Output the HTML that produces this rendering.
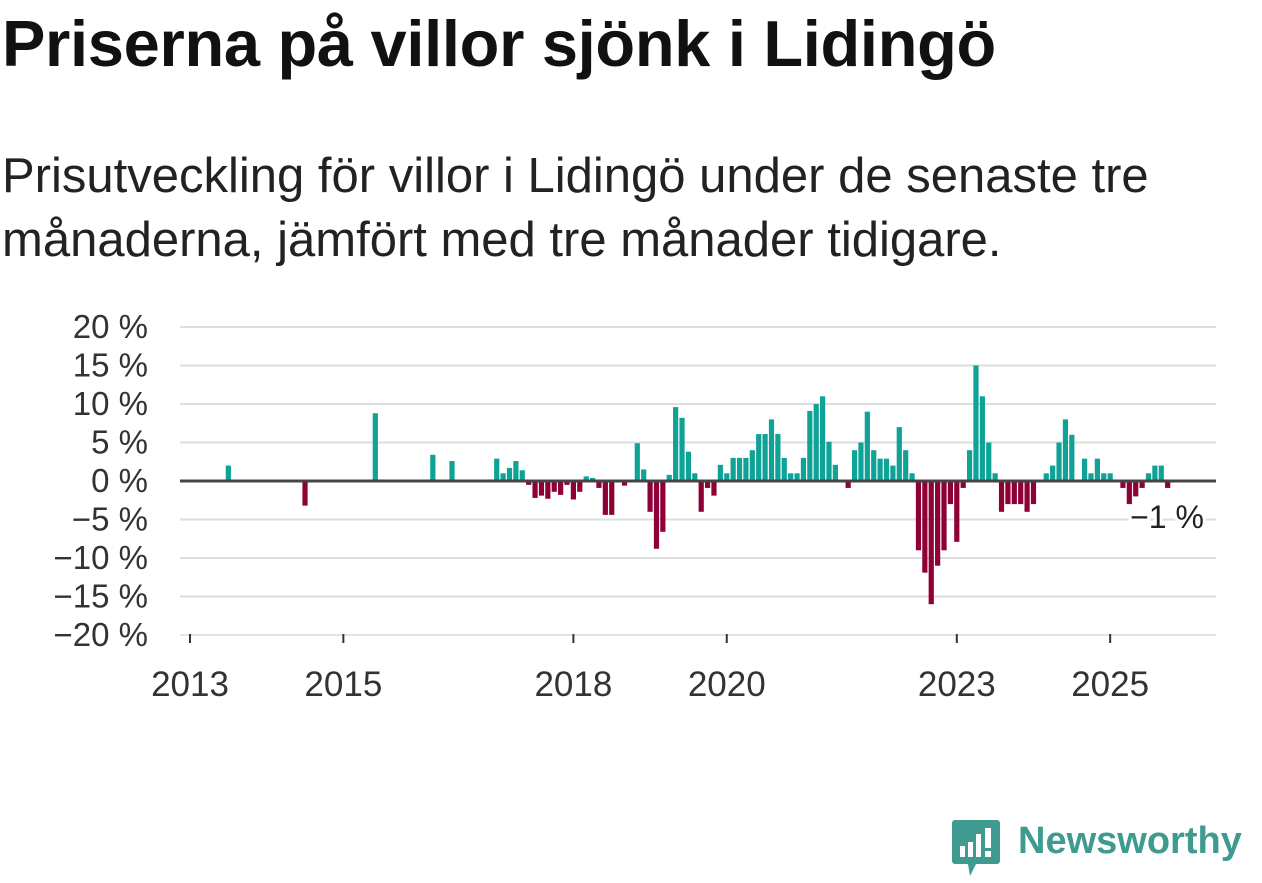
<!DOCTYPE html>
<html><head><meta charset="utf-8">
<style>
body{margin:0;background:#fff;width:1262px;height:879px;overflow:hidden;font-family:"Liberation Sans","DejaVu Sans",sans-serif;color:#111}
#title{position:absolute;left:2px;top:4px;font-size:65px;line-height:80px;font-weight:bold;margin:0;letter-spacing:-0.3px;white-space:nowrap}
#sub{position:absolute;left:2px;top:144px;font-size:49px;line-height:64px;margin:0;color:#222;white-space:nowrap}
svg{position:absolute;left:0;top:0}
</style></head><body>
<h1 id="title">Priserna på villor sjönk i Lidingö</h1>
<p id="sub">Prisutveckling för villor i Lidingö under de senaste tre<br>månaderna, jämfört med tre månader tidigare.</p>
<svg id="chart" width="1262" height="879"></svg>
<script>
const months=[6,18,29,38,41,48,49,50,51,52,53,54,55,56,57,58,59,60,61,62,63,64,65,66,68,70,71,72,73,74,75,76,77,78,79,80,81,82,83,84,85,86,87,88,89,90,91,92,93,94,95,96,97,98,99,100,101,103,104,105,106,107,108,109,110,111,112,113,114,115,116,117,118,119,120,121,122,123,124,125,126,127,128,129,130,131,132,134,135,136,137,138,140,141,142,143,144,146,147,148,149,150,151,152,153];
const values=[2,-3.2,8.8,3.4,2.6,2.9,1,1.7,2.6,1.4,-0.5,-2.2,-1.9,-2.3,-1.4,-1.8,-0.5,-2.4,-1.4,0.6,0.4,-0.9,-4.4,-4.4,-0.6,4.9,1.5,-4,-8.8,-6.6,0.8,9.6,8.2,3.8,1,-4,-0.9,-1.9,2.1,1,3,3,3,4,6.1,6.1,8,6.1,3,1,1,3,9.1,10,11,5.1,2.1,-0.9,4,5,9,4,2.9,2.9,2,7,4,1,-9,-11.9,-16,-11,-9,-3,-7.9,-0.9,4,15,11,5,1,-4,-3,-3,-3,-4,-3,1,2,5,8,6,2.9,1,2.9,1,1,-0.9,-3,-2,-0.9,1,2,2,-0.9];
const yTicks=[20,15,10,5,0,-5,-10,-15,-20];
const xYears=[2013,2015,2018,2020,2023,2025];
const lastLabel="−1 %";
const NS="http://www.w3.org/2000/svg";
const svg=document.getElementById('chart');
const x0=190,pxM=6.39,y0=481,pxP=7.7,L=180,R=1216;
const xs=m=>x0+m*pxM, ys=v=>y0-v*pxP;
function mk(t,a){const e=document.createElementNS(NS,t);for(const k in a)e.setAttribute(k,a[k]);svg.appendChild(e);return e;}
yTicks.forEach(v=>{
  if(v!==0){const g=mk('line',{x1:L,x2:R,y1:ys(v),y2:ys(v),stroke:v===-20?'#e4e4e4':'#dedede','stroke-width':2});
  
  }
  const t=mk('text',{x:148,y:ys(v)+11,'text-anchor':'end','font-size':33,fill:'#333','font-family':'Liberation Sans, sans-serif'});
  t.textContent=(v<0?'−'+(-v):v)+' %';
  
  
});
months.forEach((m,i)=>{
  const v=values[i];const cx=xs(m);
  const r=mk('rect',{x:cx-2.6,width:5.2,y:v>=0?ys(v):y0,height:Math.abs(v)*pxP,fill:v>=0?'#0fa397':'#8e0036'});
  
  
});
const z=mk('line',{x1:L,x2:R,y1:y0,y2:y0,stroke:'#444','stroke-width':3});


xYears.forEach(yr=>{
  const x=xs((yr-2013)*12);
  const tk=mk('line',{x1:x,x2:x,y1:634,y2:643,stroke:'#333','stroke-width':2});
  
  
  const t=mk('text',{x:x,y:696,'text-anchor':'middle','font-size':35,fill:'#333','font-family':'Liberation Sans, sans-serif'});
  t.textContent=yr;
  
  
});
const lb=mk('text',{x:1167,y:528,'text-anchor':'middle','font-size':32,fill:'#222','font-family':'Liberation Sans, sans-serif',stroke:'#fff','stroke-width':6,'paint-order':'stroke'});
lb.textContent=lastLabel;


</script>
<div style="position:absolute;left:952px;top:820px;">
<svg width="50" height="58" style="position:static"><path d="M3 0h42a3 3 0 0 1 3 3v38a3 3 0 0 1-3 3H24l-6 12-2-12H3a3 3 0 0 1-3-3V3a3 3 0 0 1 3-3z" fill="#3f9a8f"/><rect x="8" y="26" width="5" height="11" fill="#fff"/><rect x="16" y="22" width="5" height="15" fill="#fff"/><rect x="24" y="14" width="5" height="23" fill="#fff"/><rect x="33" y="8" width="6" height="20" fill="#fff"/><rect x="33" y="31" width="6" height="6" fill="#fff"/></svg>
<span style="position:absolute;left:66px;top:0px;font-size:38px;font-weight:bold;color:#3f9a8f;white-space:nowrap">Newsworthy</span>
</div>
</body></html>
